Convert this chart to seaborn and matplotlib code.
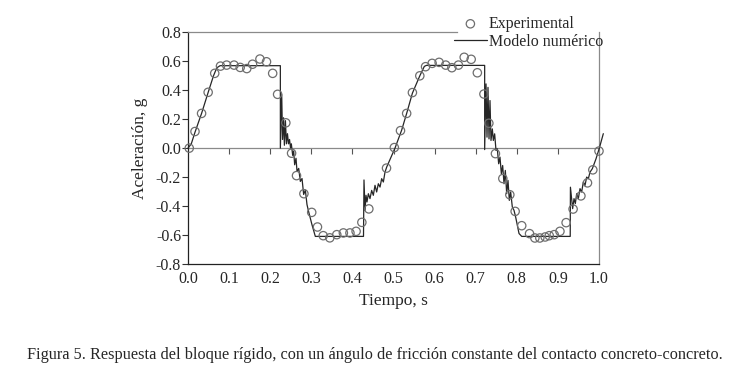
import matplotlib
matplotlib.use("Agg")
import matplotlib.pyplot as plt
import seaborn as sns

# registro experimental (tiempo s, aceleracion g)
t_exp = [0.003, 0.017, 0.033, 0.049, 0.065, 0.079, 0.094, 0.112, 0.127, 0.143,
         0.157, 0.175, 0.191, 0.206, 0.218, 0.238, 0.252, 0.264, 0.282, 0.301,
         0.315, 0.329, 0.345, 0.362, 0.378, 0.394, 0.409, 0.423, 0.440, 0.483,
         0.502, 0.517, 0.532, 0.546, 0.564, 0.578, 0.594, 0.611, 0.627, 0.642,
         0.658, 0.672, 0.689, 0.704, 0.720, 0.732, 0.748, 0.766, 0.783, 0.796,
         0.812, 0.831, 0.844, 0.856, 0.869, 0.879, 0.891, 0.905, 0.920, 0.937,
         0.956, 0.972, 0.985, 1.000]
a_exp = [0.000, 0.115, 0.240, 0.386, 0.517, 0.567, 0.574, 0.574, 0.558, 0.550,
         0.580, 0.616, 0.597, 0.517, 0.372, 0.175, -0.035, -0.190, -0.315, -0.444,
         -0.545, -0.605, -0.620, -0.598, -0.586, -0.586, -0.575, -0.513, -0.420, -0.138,
         0.004, 0.121, 0.240, 0.384, 0.500, 0.563, 0.586, 0.593, 0.574, 0.556,
         0.574, 0.628, 0.614, 0.521, 0.374, 0.172, -0.038, -0.210, -0.322, -0.437,
         -0.536, -0.591, -0.621, -0.621, -0.614, -0.605, -0.598, -0.575, -0.515, -0.421,
         -0.330, -0.240, -0.150, -0.020]

# modelo numerico
t_mod = [0.000, 0.008, 0.017, 0.033, 0.049, 0.062, 0.070, 0.078, 0.2247, 0.2247,
         0.2280, 0.2300, 0.2325, 0.2345, 0.2370, 0.2395, 0.2420, 0.2445, 0.2470, 0.2495,
         0.2514, 0.2547, 0.2571, 0.2595, 0.2628, 0.2652, 0.2693, 0.2733, 0.2774, 0.2814,
         0.2855, 0.2895, 0.2936, 0.3017, 0.3098, 0.4270, 0.4282, 0.4307, 0.4331, 0.4355,
         0.4388, 0.4428, 0.4469, 0.4509, 0.4550, 0.4590, 0.4631, 0.4672, 0.4712, 0.4753,
         0.4793, 0.4834, 0.5036, 0.5199, 0.5320, 0.5460, 0.5640, 0.5750, 0.5800, 0.7218,
         0.7218, 0.7251, 0.7275, 0.7299, 0.7324, 0.7348, 0.7372, 0.7405, 0.7429, 0.7461,
         0.7494, 0.7526, 0.7559, 0.7591, 0.7624, 0.7656, 0.7689, 0.7721, 0.7754, 0.7786,
         0.7818, 0.7851, 0.7891, 0.7932, 0.7972, 0.8054, 0.8120, 0.9300, 0.9305, 0.9359,
         0.9392, 0.9424, 0.9457, 0.9497, 0.9538, 0.9578, 0.9619, 0.9660, 0.9700, 0.9741,
         0.9781, 0.9838, 0.9927, 1.0008, 1.0105]
a_mod = [0.000, 0.030, 0.110, 0.240, 0.385, 0.500, 0.555, 0.570, 0.570, 0.000,
         0.370, 0.060, 0.210, 0.020, 0.190, 0.030, 0.100, 0.030, 0.060, 0.000,
         0.030, -0.050, -0.020, -0.115, -0.070, -0.160, -0.140, -0.230, -0.210, -0.320,
         -0.290, -0.390, -0.440, -0.530, -0.610, -0.610, -0.220, -0.430, -0.326, -0.372,
         -0.315, -0.349, -0.292, -0.326, -0.257, -0.303, -0.246, -0.269, -0.211, -0.234,
         -0.166, -0.131, 0.000, 0.125, 0.240, 0.380, 0.500, 0.565, 0.572, 0.572,
         -0.010, 0.444, 0.076, 0.420, 0.064, 0.329, 0.053, 0.133, 0.053, 0.099,
         -0.016, -0.005, -0.108, -0.062, -0.177, -0.120, -0.246, -0.154, -0.315, -0.223,
         -0.361, -0.303, -0.407, -0.430, -0.476, -0.590, -0.610, -0.610, -0.270, -0.418,
         -0.349, -0.383, -0.315, -0.349, -0.280, -0.303, -0.234, -0.257, -0.200, -0.211,
         -0.166, -0.142, -0.074, 0.000, 0.100]

x_ticks = [0.0, 0.1, 0.2, 0.3, 0.4, 0.5, 0.6, 0.7, 0.8, 0.9, 1.0]
y_ticks = [-0.8, -0.6, -0.4, -0.2, 0.0, 0.2, 0.4, 0.6, 0.8]

sns.set_style("ticks")
plt.rcParams['font.family'] = ['Liberation Serif', 'DejaVu Serif']
plt.rcParams['axes.unicode_minus'] = False

fig = plt.figure(figsize=(7.44, 3.83), dpi=100)
ax = fig.add_axes([0.2527, 0.311, 0.5524, 0.6044])

sns.lineplot(x=t_mod, y=a_mod, sort=False, estimator=None, color='#262626',
             linewidth=0.9, ax=ax, label='Modelo numérico', zorder=3, clip_on=False)
sns.scatterplot(x=t_exp, y=a_exp, marker='o', s=36, facecolors='none',
                edgecolor='#6e6e6e', linewidth=0.9, ax=ax, label='Experimental',
                zorder=4, clip_on=False)

ax.set_xlim(0, 1.0)
ax.set_ylim(-0.8, 0.8)
ax.set_xticks(x_ticks, labels=[f'{v:.1f}' for v in x_ticks])
ax.set_yticks(y_ticks, labels=[f'{v:.1f}' for v in y_ticks])
ax.tick_params(axis='y', direction='out', length=4, width=0.8, pad=1,
               labelsize=11.5, color='#333333')
ax.tick_params(axis='x', length=0, pad=5, labelsize=11.5)

for side in ['left', 'bottom']:
    ax.spines[side].set_color('#222222')
    ax.spines[side].set_linewidth(0.9)
for side in ['top', 'right']:
    ax.spines[side].set_visible(True)
    ax.spines[side].set_color('#8a8a8a')
    ax.spines[side].set_linewidth(0.9)
ax.spines['top'].set_bounds(0, 0.655)

# eje cero con marcas
zero = ax.secondary_xaxis(0.5)
zero.set_xticks(x_ticks[1:-1])
zero.tick_params(axis='x', direction='in', length=4, width=0.8, color='#555555',
                 labeltop=False, labelbottom=False)
zero.spines['top'].set_color('#8a8a8a')
zero.spines['bottom'].set_color('#8a8a8a')
zero.spines['top'].set_linewidth(0.9)
zero.spines['bottom'].set_linewidth(0.9)

ax.set_xlabel('Tiempo, s', fontsize=12.5)
ax.set_ylabel('Aceleración, g', fontsize=12.5)
ax.yaxis.set_label_coords(-0.097, 0.5)
ax.xaxis.set_label_coords(0.5, -0.125)

h, l = ax.get_legend_handles_labels()
order = [l.index('Experimental'), l.index('Modelo numérico')]
ax.legend([h[i] for i in order], [l[i] for i in order],
          loc='upper right', bbox_to_anchor=(603 / 744, 1 - 16 / 383),
          bbox_transform=fig.transFigure, frameon=False, fontsize=11.5,
          borderpad=0, borderaxespad=0, labelspacing=0.1,
          handlelength=2.1, handletextpad=0.1)

fig.text(0.504, 1 - 355 / 383,
         'Figura 5. Respuesta del bloque rígido, con un ángulo de fricción constante del contacto concreto-concreto.',
         ha='center', va='center', fontsize=11.7)

fig.savefig('out.png', dpi=100)
